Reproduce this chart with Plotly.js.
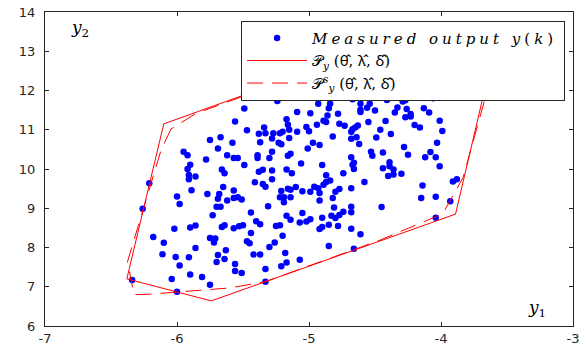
<!DOCTYPE html>
<html>
<head>
<meta charset="utf-8">
<script src="https://cdn.plot.ly/plotly-3.0.1.min.js"></script>
<style>
html,body{margin:0;padding:0;background:#fff;}
#chart{width:586px;height:352px;}
</style>
</head>
<body>
<div id="chart"></div>
<script>
// Measured output samples y(k) = (y1, y2)
const measX = [
-5.75,-5.67,-5.69,-5.95,-5.92,-5.78,-5.62,-5.90,-5.92,-5.66,-5.64,-5.91,-5.86,-5.91,-6.21,-5.65,-5.89,-5.77,-5.68,-6.00,
-5.69,-5.62,-5.98,-5.70,-5.67,-6.26,-5.73,-6.02,-5.90,-5.86,-5.66,-5.64,-6.18,-6.10,-5.75,-5.71,-5.72,-5.86,-5.63,-6.11,
-6.01,-5.91,-5.69,-5.64,-5.70,-5.98,-5.90,-5.81,-6.04,-6.34,-5.75,-6.00,
-5.24,-5.49,-4.93,-4.85,-4.84,-4.85,-4.81,-5.09,-4.99,-4.78,-4.86,-5.56,-5.17,-4.89,-4.87,-5.16,-4.94,-4.77,-4.73,-5.34,
-5.47,-5.15,-5.02,-5.00,-5.09,-5.38,-5.33,-5.27,-5.22,-5.20,-5.28,-5.15,-4.82,-5.58,-5.37,-5.23,-5.21,-4.97,-4.92,-5.01,
-5.28,-5.39,-5.39,-5.30,-5.14,-5.16,-5.57,-5.54,-5.06,-5.49,-4.90,-5.35,-5.38,-5.28,-5.17,-5.13,-4.74,-4.87,-5.28,-5.41,
-5.35,-5.33,-4.84,-4.87,-4.89,-4.96,-4.93,-5.10,-5.16,-5.14,-5.21,-5.05,-4.99,-4.92,-4.77,-4.80,-4.82,-5.57,-5.22,-5.19,
-5.14,-5.19,-4.92,-5.57,-5.54,-5.51,-5.31,-4.81,-5.44,-5.05,-5.17,-5.14,-4.74,-4.77,-4.80,-4.83,-4.99,-5.02,-5.07,-4.90,
-5.40,-5.37,-5.50,-5.53,-5.57,-5.25,-5.22,-4.90,-4.92,-4.85,-4.78,-5.44,-5.20,-5.47,-5.45,-5.26,-5.30,-4.85,-5.18,-5.42,
-5.37,-5.07,-5.17,-5.21,-5.56,-5.33,-5.56,-5.51,-5.33,
-4.08,-4.06,-4.67,-4.41,-4.27,-4.29,-4.61,-4.54,-4.33,-4.56,-4.61,-4.61,-4.50,-4.26,-4.13,-4.09,-4.35,-4.23,-4.23,-4.27,
-4.01,-4.55,-4.42,-4.20,-4.16,-4.63,-4.65,-4.67,-4.68,-4.46,-3.99,-4.38,-4.64,-4.68,-4.49,-4.62,-4.03,-4.28,-4.53,-4.52,
-4.44,-4.25,-4.08,-4.12,-4.04,-4.68,-4.66,-4.67,-4.66,-4.39,-4.39,-4.44,-4.36,-4.36,-4.40,-4.30,-4.01,-4.58,-4.68,-4.14,
-3.88,-3.91,-4.15,-4.04,-3.93,-4.45,-4.68,-4.68,-4.04,-4.68,-4.61,-4.66
];
const measY = [
10.74,10.81,10.52,10.44,10.35,10.24,10.35,10.11,10.00,9.99,9.89,9.85,9.81,9.74,9.64,9.54,9.46,9.36,9.36,9.30,
9.24,9.20,9.11,9.04,9.04,8.99,8.82,8.48,8.51,8.56,8.52,8.57,8.27,8.12,8.24,8.23,8.13,7.99,7.93,7.83,
7.76,7.75,7.81,7.71,7.63,7.54,7.31,7.25,7.20,7.17,7.05,6.87,
11.73,11.54,11.66,11.80,11.66,11.55,11.91,11.45,11.42,11.41,11.36,11.21,11.27,11.23,11.20,11.13,11.13,11.15,11.10,11.06,
10.99,11.00,11.07,10.96,10.95,10.90,10.91,10.91,10.91,10.95,10.78,10.79,10.83,10.67,10.68,10.67,10.63,10.67,10.61,10.52,
10.44,10.35,10.28,10.28,10.39,10.34,10.28,10.28,10.14,10.10,10.10,9.98,9.93,9.96,9.99,9.89,9.89,9.84,9.74,9.66,
9.62,9.55,9.71,9.67,9.60,9.55,9.51,9.54,9.50,9.47,9.44,9.43,9.42,9.39,9.49,9.42,9.26,9.45,9.28,9.28,
9.28,9.15,9.20,9.26,9.28,9.22,9.05,9.02,8.89,8.88,8.81,8.71,8.91,8.83,8.75,8.81,8.72,8.66,8.64,8.76,
8.67,8.59,8.57,8.54,8.49,8.55,8.57,8.52,8.47,8.58,8.55,8.37,8.30,8.16,8.11,8.13,8.01,8.04,7.86,7.82,
7.82,7.69,7.62,7.52,7.58,7.45,7.40,7.35,7.13,
11.89,11.80,11.78,11.76,11.75,11.72,11.66,11.66,11.57,11.56,11.51,11.45,11.49,11.53,11.55,11.44,11.44,11.40,11.34,11.32,
11.23,11.20,11.22,11.12,11.06,11.11,11.06,11.01,10.95,11.00,10.97,10.89,10.81,10.77,10.80,10.64,10.67,10.56,10.44,10.34,
10.42,10.36,10.43,10.30,10.30,10.30,10.16,10.11,10.00,10.17,10.07,10.02,9.99,9.86,9.82,9.88,10.07,9.67,9.51,9.58,
9.74,9.68,9.26,9.29,9.18,9.03,9.04,8.90,8.76,8.48,8.34,7.97
];

// Outer polytope P_y (solid) vertices, closed
const polyX = [-6.10, -6.38, -5.74, -3.89, -3.58, -4.33, -6.10];
const polyY = [11.15,  7.20,  6.64,  8.85, 13.29, 13.29, 11.15];

// Polytope P_y^s (dashed) vertices, closed
const polySX = [-6.045, -6.12, -6.375, -6.326, -6.205, -5.60, -5.33, -4.46, -3.987, -3.833, -3.654, -3.54, -4.33, -5.86, -6.045];
const polySY = [11.02,  10.49,  7.64,   6.80,   6.81,   6.97,  7.13,  8.19,  8.86,   9.78,  11.94,  13.29, 13.29, 11.41, 11.02];

// Axis ticks
const xTickVals = [-7, -6, -5, -4, -3];
const xTickText = ['-7', '-6', '-5', '-4', '-3'];
const yTickVals = [6, 7, 8, 9, 10, 11, 12, 13, 14];
const yTickText = ['6', '7', '8', '9', '10', '11', '12', '13', '14'];

const wide = s => '<span style="letter-spacing:4px">' + s + '</span>';
const gk = s => '<span style="font-family:\'Noto Sans\';font-style:normal">' + s + '</span>';
const names = [
  wide('<i>Measured output y</i>(<i>k</i>)'),
  '𝒫<sub><i>y</i></sub> (' + gk('θ̂') + ', ' + gk('λ̂') + ', ' + gk('δ̂') + ')',
  '𝒫<sup><i>s</i></sup><sub><i>y</i></sub> (' + gk('θ̂') + ', ' + gk('λ̂') + ', ' + gk('δ̂') + ')'
];

const traces = [
  {x: measX, y: measY, type: 'scatter', mode: 'markers', name: names[0],
   marker: {color: '#0000ff', size: 6.5, line: {width: 0}}},
  {x: polyX, y: polyY, type: 'scatter', mode: 'lines', name: names[1],
   line: {color: '#ff0000', width: 1}},
  {x: polySX, y: polySY, type: 'scatter', mode: 'lines', name: names[2],
   line: {color: '#ff0000', width: 1, dash: '16px,9px'}}
];

const axisCommon = {
  showgrid: false, zeroline: false, showline: true, linecolor: '#262626', linewidth: 1,
  mirror: 'ticks', ticks: 'inside', ticklen: 4, tickcolor: '#262626', tickwidth: 1,
  tickfont: {family: 'DejaVu Sans, sans-serif', size: 13, color: '#262626'},
  tickmode: 'array'
};

const layout = {
  width: 586, height: 352,
  margin: {l: 45, r: 13, t: 12, b: 26, pad: 0},
  paper_bgcolor: '#ffffff', plot_bgcolor: '#ffffff',
  showlegend: true,
  xaxis: Object.assign({}, axisCommon, {range: [-7, -3], tickvals: xTickVals, ticktext: xTickText}),
  yaxis: Object.assign({}, axisCommon, {range: [6, 14], tickvals: yTickVals, ticktext: yTickText, ticklabelstandoff: 6}),
  legend: {
    x: 0.985, y: 0.972, xanchor: 'right', yanchor: 'top',
    bgcolor: '#ffffff', bordercolor: '#262626', borderwidth: 1,
    font: {family: 'DejaVu Serif, serif', size: 15, color: '#000000'},
    itemwidth: 60,
    tracegroupgap: 0
  },
  annotations: [
    {xref: 'paper', yref: 'paper', x: 0.066, y: 0.946, xanchor: 'center', yanchor: 'middle', showarrow: false,
     text: '<i>y</i><sub>2</sub>', font: {family: 'DejaVu Serif, serif', size: 17, color: '#000000'}},
    {xref: 'paper', yref: 'paper', x: 0.932, y: 0.055, xanchor: 'center', yanchor: 'middle', showarrow: false,
     text: '<i>y</i><sub>1</sub>', font: {family: 'DejaVu Serif, serif', size: 17, color: '#000000'}}
  ]
};

Plotly.newPlot('chart', traces, layout, {staticPlot: true, displayModeBar: false});
</script>
</body>
</html>
